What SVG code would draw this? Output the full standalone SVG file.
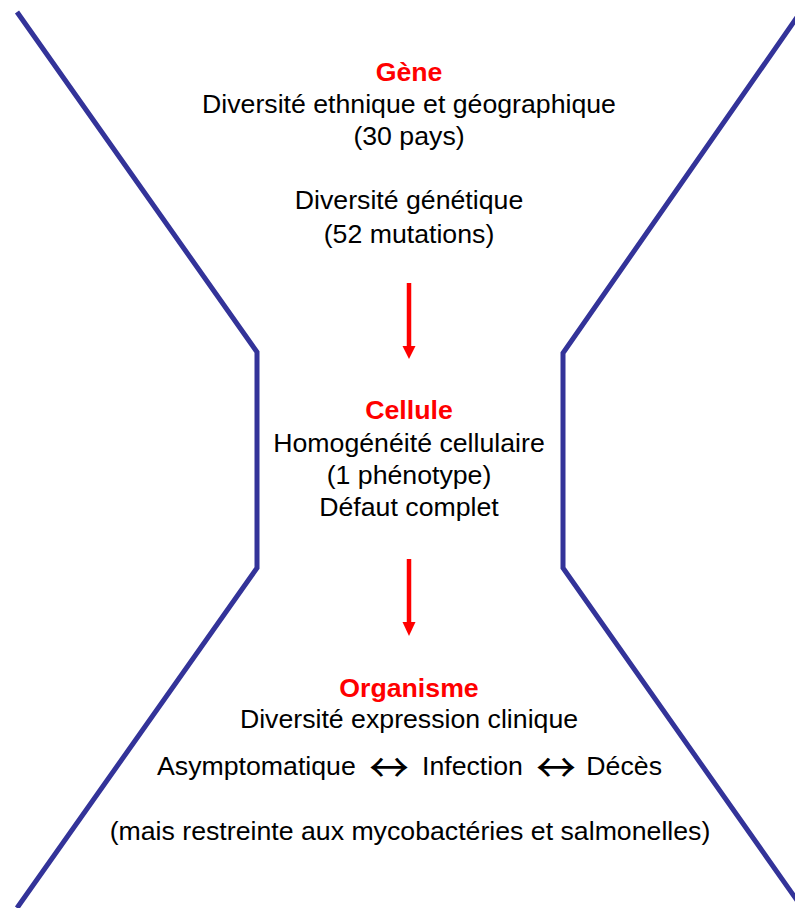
<svg xmlns="http://www.w3.org/2000/svg" width="795" height="908" viewBox="0 0 795 908">
<style>
  .t { font-family: "Liberation Sans", Arial, sans-serif; font-size: 26.7px; fill: #000; text-anchor: middle; }
  .h { font-family: "Liberation Sans", Arial, sans-serif; font-size: 26.7px; font-weight: bold; fill: #FF0000; text-anchor: middle; }
  .s { font-family: "Liberation Sans", Arial, sans-serif; font-size: 26.7px; fill: #000; }
  .ar { font-family: "Noto Sans CJK SC", "DejaVu Sans", sans-serif; font-size: 40px; fill: #000; text-anchor: middle; }
  .funnel { fill: none; stroke: #333399; stroke-width: 5; stroke-linejoin: miter; }
  .flow { stroke: #FF0000; stroke-width: 4.5; fill: none; }
  .head { fill: #FF0000; }
</style>
<rect width="795" height="908" fill="#FFFFFF"/>
<g id="funnel">
  <polyline class="funnel" points="17,12 257,352 257,568 17,908"/>
  <polyline class="funnel" points="800,13 563,353 563,568 801,906"/>
</g>
<g id="connectors">
  <line class="flow" x1="409" y1="283" x2="409" y2="348"/>
  <polygon class="head" points="402.5,346 415.5,346 409,359"/>
  <line class="flow" x1="409" y1="559" x2="409" y2="624"/>
  <polygon class="head" points="402.5,622 415.5,622 409,636"/>
</g>
<g id="gene">
  <text class="h" x="409" y="81">Gène</text>
  <text class="t" x="409" y="113">Diversité ethnique et géographique</text>
  <text class="t" x="409" y="145">(30 pays)</text>
  <text class="t" x="409" y="209">Diversité génétique</text>
  <text class="t" x="409" y="243"> (52 mutations)</text>
</g>
<g id="cellule">
  <text class="h" x="409" y="419">Cellule</text>
  <text class="t" x="409" y="452">Homogénéité cellulaire</text>
  <text class="t" x="409" y="484">(1 phénotype)</text>
  <text class="t" x="409" y="516">Défaut complet</text>
</g>
<g id="organisme">
  <text class="h" x="409" y="697">Organisme</text>
  <text class="t" x="409" y="728">Diversité expression clinique</text>
  <text class="s" x="157" y="775">Asymptomatique</text>
  <text class="ar" x="389" y="782">↔</text>
  <text class="s" x="422" y="775">Infection</text>
  <text class="ar" x="556" y="782">↔</text>
  <text class="s" x="662" y="775" text-anchor="end">Décès</text>
  <text class="t" x="410" y="840">(mais restreinte aux mycobactéries et salmonelles)</text>
</g>
</svg>
